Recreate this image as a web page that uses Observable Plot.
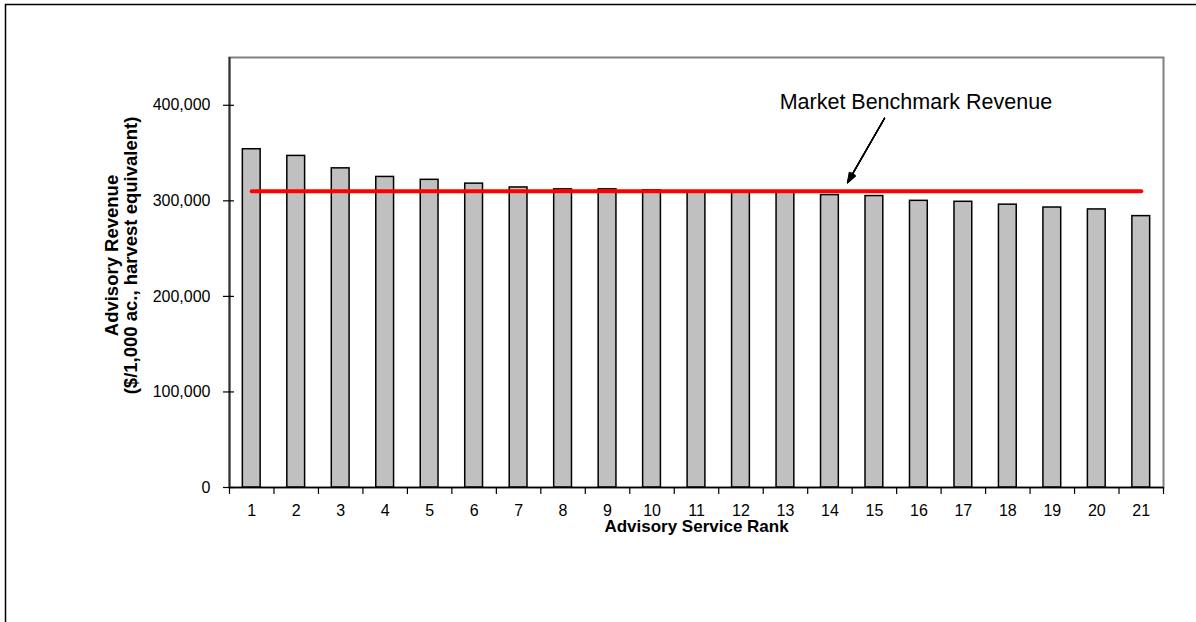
<!DOCTYPE html>
<html><head><meta charset="utf-8">
<script src="https://cdn.jsdelivr.net/npm/d3@7"></script>
<script src="https://cdn.jsdelivr.net/npm/@observablehq/plot@0.6"></script>
<style>html,body{margin:0;padding:0;background:#fff;overflow:hidden}</style>
</head><body><div id="chart"></div>
<script>
const ranks = [1,2,3,4,5,6,7,8,9,10,11,12,13,14,15,16,17,18,19,20,21];
const revenue = [354000,347000,334000,325000,322000,318000,314000,312000,312000,311000,310000,310000,309000,306000,305000,300000,299000,296000,293000,291000,284000];
const benchmark = 310000;
const yTicks = [0,100000,200000,300000,400000];
const xTitle = "Advisory Service Rank";
const yTitle = ["Advisory Revenue", "($/1,000 ac., harvest equivalent)"];
const noteText = "Market Benchmark Revenue";
// annotation anchors (data space)
const note = {rank: 16, value: 403000};
const arrowFrom = {rank: 15, value: 400000};
const arrowTo = {rank: 14, value: 319000};

const W = 1196, H = 622, mL = 229, mR = 33, mT = 57, mB = 135;
const plotW = W - mL - mR, plotH = H - mT - mB, step = plotW / ranks.length;
const font = "'Liberation Sans', Arial, sans-serif";

const data = ranks.map((r, i) => ({rank: r, value: revenue[i]}));
const bench = ranks.map(r => ({rank: r, value: benchmark}));

const arrows = [40, 30, 20, 10, 0].map(a => Plot.arrow([arrowFrom], {
  x1: () => arrowFrom.rank, y1: () => arrowFrom.value,
  x2: () => arrowTo.rank, y2: () => arrowTo.value,
  dx: step * 0.396, insetStart: 15, insetEnd: 0,
  headLength: 12, headAngle: a, stroke: "#000", strokeWidth: 1.3, bend: 0
}));

const chart = Plot.plot({
  width: W, height: H,
  marginLeft: mL, marginRight: mR, marginTop: mT, marginBottom: mB,
  style: {fontFamily: font, fontSize: "16px", background: "#fff", color: "#000"},
  x: {type: "band", domain: ranks, paddingInner: 0.6, paddingOuter: 0.3, round: false},
  y: {domain: [0, 450000]},
  marks: [
    Plot.frame({insetLeft: -224, insetTop: -53, insetRight: -40, insetBottom: -140, stroke: "#000", strokeWidth: 1.5}),
    Plot.frame({stroke: "#808080", strokeWidth: 2}),
    Plot.barY(data, {x: "rank", y: "value", fill: "#c0c0c0", stroke: "#000", strokeWidth: 1.5}),
    Plot.ruleX([ranks[0]], {dx: -step / 2, stroke: "#333", strokeWidth: 2}),
    Plot.ruleY([0], {stroke: "#000", strokeWidth: 1.5}),
    Plot.ruleY(yTicks, {insetLeft: -6, insetRight: plotW - 5, stroke: "#000", strokeWidth: 1.2}),
    Plot.ruleX(ranks, {dx: -step / 2, insetTop: plotH, insetBottom: -7, stroke: "#000", strokeWidth: 1.2}),
    Plot.ruleX([ranks[ranks.length - 1]], {dx: step / 2, insetTop: plotH, insetBottom: -7, stroke: "#000", strokeWidth: 1.2}),
    Plot.axisX({tickSize: 0, tickPadding: 17, fontSize: 16, label: null, fill: "#000"}),
    Plot.axisY({ticks: yTicks, tickFormat: d3.format(","), tickSize: 0, tickPadding: 19, fontSize: 16, label: null, fill: "#000"}),
    Plot.lineY(bench, {x: "rank", y: "value", stroke: "#ff0000", strokeWidth: 4}),
    ...arrows,
    Plot.text([noteText], {x: () => note.rank, y: () => note.value, dx: -3, fontSize: 21.5, fill: "#000", text: d => d}),
    Plot.text([xTitle], {frameAnchor: "bottom", lineAnchor: "middle", dy: 39, fontSize: 17, fontWeight: "bold", fill: "#000", text: d => d}),
    Plot.text([yTitle.join("\n")], {frameAnchor: "left", textAnchor: "middle", lineAnchor: "middle", rotate: -90, dx: -108, dy: -17, fontSize: 18.5, lineHeight: 1.0, fontWeight: "bold", fill: "#000", text: d => d})
  ]
});
document.getElementById("chart").appendChild(chart);
</script>
</body></html>
